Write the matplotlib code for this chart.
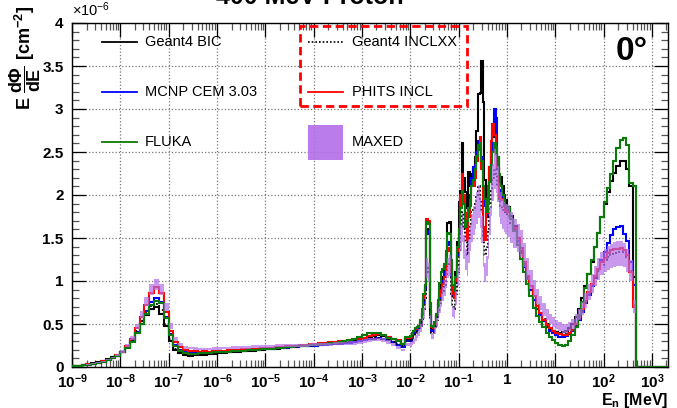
import numpy as np
import matplotlib
matplotlib.use("Agg")
import matplotlib.pyplot as plt
from matplotlib.patches import Rectangle
from matplotlib.ticker import FixedLocator, NullFormatter

plt.rcParams['font.family'] = ['Liberation Sans', 'DejaVu Sans']
plt.rcParams['mathtext.fontset'] = 'custom'
plt.rcParams['mathtext.rm'] = 'Liberation Sans'
plt.rcParams['mathtext.bf'] = 'Liberation Sans:bold'
plt.rcParams['mathtext.it'] = 'Liberation Sans:italic'
plt.rcParams['mathtext.sf'] = 'Liberation Sans'

# ---------------- data (units of 1e-6 cm^-2) ----------------
# energy binning (log10 MeV): thermal/epithermal, resonance region, fast region
seg_lo = [-9.0, -2.0, 0.0]
seg_hi = [-2.0, 0.0, 10.0 / 3.0]
seg_nbins = [70, 60, 50]

labels = ["Geant4 BIC", "MCNP CEM 3.03", "FLUKA", "Geant4 INCLXX", "PHITS INCL", "MAXED"]

bic_low = [0.01, 0.015, 0.025, 0.035, 0.045, 0.055, 0.07, 0.09, 0.115, 0.145,
           0.18, 0.23, 0.30, 0.40, 0.50, 0.60, 0.68, 0.70, 0.62, 0.48,
           0.30, 0.20, 0.16, 0.14, 0.13, 0.135, 0.14, 0.145, 0.15, 0.155,
           0.16, 0.165, 0.17, 0.175, 0.18, 0.185, 0.19, 0.19, 0.195, 0.20,
           0.205, 0.21, 0.215, 0.22, 0.225, 0.23, 0.235, 0.24, 0.245, 0.25,
           0.255, 0.26, 0.265, 0.27, 0.275, 0.28, 0.285, 0.29, 0.30, 0.31,
           0.32, 0.34, 0.36, 0.37, 0.36, 0.34, 0.32, 0.30, 0.27, 0.32]
bic_mid = [0.34, 0.37, 0.40, 0.43, 0.44, 0.46, 0.52, 0.62, 0.78, 0.92,
           1.60, 1.55, 0.65, 0.45, 0.44, 0.50, 0.62, 0.75, 0.85, 0.95,
           1.05, 1.15, 1.30, 1.67, 1.69, 1.20, 0.86, 0.85, 1.10, 1.45,
           1.92, 2.05, 2.60, 2.20, 2.04, 1.85, 2.27, 2.10, 2.25, 2.30,
           2.44, 2.75, 3.17, 3.19, 3.56, 3.08, 2.17, 1.95, 2.10, 2.33,
           2.50, 2.67, 2.87, 2.56, 2.44, 2.23, 2.21, 2.10, 2.00, 1.94]
bic_high = [1.86, 1.76, 1.64, 1.50, 1.35, 1.18, 1.03, 0.90, 0.78, 0.68,
            0.60, 0.53, 0.48, 0.44, 0.42, 0.41, 0.40, 0.41, 0.42, 0.45,
            0.50, 0.58, 0.68, 0.80, 0.94, 1.08, 1.22, 1.40, 1.56, 1.74,
            1.90, 2.04, 2.16, 2.26, 2.34, 2.40, 2.40, 2.30, 2.10, 1.05,
            0, 0, 0, 0, 0, 0, 0, 0, 0, 0]

mcnp_low = [0.01, 0.012, 0.018, 0.025, 0.035, 0.045, 0.06, 0.08, 0.10, 0.13,
            0.17, 0.22, 0.30, 0.41, 0.53, 0.65, 0.76, 0.80, 0.76, 0.58,
            0.38, 0.26, 0.20, 0.17, 0.16, 0.16, 0.165, 0.165, 0.17, 0.17,
            0.175, 0.18, 0.18, 0.185, 0.19, 0.19, 0.195, 0.20, 0.20, 0.205,
            0.21, 0.215, 0.22, 0.22, 0.225, 0.23, 0.235, 0.24, 0.245, 0.25,
            0.25, 0.255, 0.26, 0.265, 0.27, 0.27, 0.275, 0.28, 0.29, 0.30,
            0.31, 0.32, 0.33, 0.34, 0.33, 0.31, 0.29, 0.26, 0.23, 0.30]
mcnp_mid = [0.30, 0.34, 0.38, 0.41, 0.43, 0.45, 0.50, 0.62, 0.75, 0.90,
            1.58, 1.55, 0.60, 0.42, 0.42, 0.48, 0.58, 0.72, 0.80, 0.90,
            1.00, 1.10, 1.25, 1.42, 1.45, 1.05, 0.82, 0.80, 0.98, 1.30,
            1.55, 1.95, 2.13, 1.90, 1.70, 1.60, 1.85, 2.00, 2.20, 2.33,
            2.35, 2.50, 2.63, 2.55, 2.44, 2.00, 1.87, 1.75, 2.00, 2.25,
            2.50, 2.83, 3.00, 2.90, 2.30, 2.06, 2.00, 1.95, 1.90, 1.85]
mcnp_high = [1.82, 1.72, 1.60, 1.46, 1.32, 1.16, 1.02, 0.90, 0.78, 0.68,
             0.60, 0.53, 0.47, 0.42, 0.39, 0.37, 0.35, 0.35, 0.36, 0.38,
             0.42, 0.47, 0.55, 0.64, 0.74, 0.84, 0.94, 1.04, 1.14, 1.24,
             1.34, 1.44, 1.54, 1.61, 1.63, 1.64, 1.55, 1.46, 1.22, 0.95,
             0, 0, 0, 0, 0, 0, 0, 0, 0, 0]

fluka_low = [0.01, 0.012, 0.018, 0.025, 0.035, 0.045, 0.06, 0.08, 0.10, 0.13,
             0.17, 0.22, 0.29, 0.39, 0.50, 0.62, 0.72, 0.77, 0.74, 0.57,
             0.37, 0.25, 0.19, 0.165, 0.155, 0.155, 0.16, 0.16, 0.165, 0.17,
             0.17, 0.175, 0.18, 0.185, 0.185, 0.19, 0.195, 0.20, 0.20, 0.205,
             0.21, 0.215, 0.22, 0.225, 0.23, 0.235, 0.24, 0.245, 0.25, 0.255,
             0.26, 0.265, 0.27, 0.275, 0.28, 0.29, 0.30, 0.31, 0.33, 0.35,
             0.37, 0.39, 0.40, 0.39, 0.37, 0.34, 0.32, 0.30, 0.27, 0.35]
fluka_mid = [0.36, 0.40, 0.42, 0.45, 0.47, 0.48, 0.55, 0.65, 0.85, 0.95,
             1.69, 1.66, 0.75, 0.48, 0.47, 0.52, 0.62, 0.78, 0.98, 1.10,
             1.14, 1.20, 1.35, 1.56, 1.55, 1.25, 0.95, 0.88, 1.05, 1.40,
             1.60, 1.85, 2.05, 1.90, 1.63, 1.70, 1.85, 1.94, 2.10, 2.17,
             2.30, 2.45, 2.58, 2.60, 2.40, 2.10, 1.95, 1.80, 1.90, 2.15,
             2.35, 2.50, 2.60, 2.56, 2.44, 2.25, 2.10, 2.00, 1.94, 1.88]
fluka_high = [1.85, 1.72, 1.58, 1.42, 1.26, 1.10, 0.96, 0.82, 0.69, 0.59,
              0.52, 0.46, 0.40, 0.35, 0.31, 0.28, 0.26, 0.25, 0.26, 0.30,
              0.37, 0.47, 0.60, 0.76, 0.92, 1.08, 1.24, 1.40, 1.56, 1.74,
              1.92, 2.08, 2.24, 2.40, 2.55, 2.64, 2.66, 2.58, 2.14, 2.10,
              0, 0, 0, 0, 0, 0, 0, 0, 0, 0]

inclxx_low = [0.01, 0.015, 0.02, 0.03, 0.04, 0.05, 0.065, 0.085, 0.11, 0.14,
              0.18, 0.23, 0.31, 0.42, 0.53, 0.63, 0.71, 0.73, 0.66, 0.50,
              0.32, 0.21, 0.17, 0.15, 0.14, 0.145, 0.15, 0.155, 0.16, 0.16,
              0.165, 0.17, 0.175, 0.18, 0.185, 0.19, 0.19, 0.195, 0.20, 0.20,
              0.205, 0.21, 0.215, 0.22, 0.225, 0.23, 0.235, 0.24, 0.245, 0.25,
              0.255, 0.26, 0.265, 0.27, 0.27, 0.275, 0.28, 0.29, 0.30, 0.31,
              0.32, 0.33, 0.34, 0.34, 0.33, 0.31, 0.29, 0.27, 0.24, 0.30]
inclxx_mid = [0.30, 0.33, 0.36, 0.39, 0.41, 0.43, 0.48, 0.56, 0.68, 0.80,
              1.15, 1.10, 0.55, 0.40, 0.40, 0.45, 0.55, 0.66, 0.75, 0.82,
              0.88, 0.95, 1.05, 1.18, 1.20, 0.85, 0.70, 0.68, 0.85, 1.10,
              1.35, 1.65, 1.80, 1.60, 1.45, 1.30, 1.50, 1.65, 1.80, 1.85,
              1.90, 2.00, 2.10, 1.95, 1.80, 1.50, 1.30, 1.40, 1.60, 1.85,
              2.05, 2.20, 2.30, 2.25, 2.10, 1.95, 1.87, 1.82, 1.80, 1.78]
inclxx_high = [1.76, 1.68, 1.58, 1.46, 1.34, 1.20, 1.06, 0.94, 0.82, 0.72,
               0.63, 0.56, 0.50, 0.45, 0.42, 0.40, 0.39, 0.38, 0.38, 0.40,
               0.43, 0.49, 0.56, 0.65, 0.75, 0.85, 0.95, 1.04, 1.12, 1.19,
               1.24, 1.28, 1.31, 1.33, 1.34, 1.34, 1.32, 1.27, 1.12, 0.72,
               0, 0, 0, 0, 0, 0, 0, 0, 0, 0]

phits_low = [0.01, 0.015, 0.02, 0.03, 0.04, 0.05, 0.065, 0.085, 0.11, 0.14,
             0.18, 0.24, 0.33, 0.45, 0.58, 0.72, 0.86, 0.93, 0.86, 0.64,
             0.42, 0.29, 0.23, 0.20, 0.19, 0.185, 0.18, 0.185, 0.18, 0.185,
             0.19, 0.19, 0.195, 0.20, 0.20, 0.205, 0.21, 0.205, 0.215, 0.22,
             0.22, 0.225, 0.23, 0.235, 0.24, 0.245, 0.25, 0.255, 0.26, 0.265,
             0.27, 0.275, 0.28, 0.29, 0.295, 0.30, 0.305, 0.31, 0.32, 0.33,
             0.34, 0.36, 0.37, 0.38, 0.37, 0.35, 0.33, 0.31, 0.27, 0.34]
phits_mid = [0.35, 0.38, 0.42, 0.44, 0.46, 0.47, 0.55, 0.68, 0.80, 0.95,
             1.72, 1.70, 0.70, 0.46, 0.45, 0.50, 0.60, 0.74, 0.82, 0.90,
             0.96, 1.05, 1.20, 1.35, 1.38, 1.10, 0.85, 0.80, 1.00, 1.35,
             1.60, 2.00, 2.25, 2.00, 1.79, 1.48, 1.75, 1.87, 2.10, 2.10,
             2.20, 2.40, 2.52, 2.67, 2.30, 1.63, 1.48, 1.79, 2.10, 2.33,
             2.63, 2.83, 2.70, 2.48, 2.33, 1.98, 1.95, 1.94, 1.87, 1.82]
phits_high = [1.80, 1.72, 1.62, 1.50, 1.38, 1.22, 1.06, 0.94, 0.82, 0.71,
              0.63, 0.55, 0.49, 0.45, 0.42, 0.40, 0.38, 0.37, 0.37, 0.39,
              0.43, 0.50, 0.58, 0.67, 0.77, 0.87, 0.96, 1.06, 1.14, 1.22,
              1.27, 1.32, 1.36, 1.37, 1.37, 1.38, 1.36, 1.30, 1.10, 0.70,
              0, 0, 0, 0, 0, 0, 0, 0, 0, 0]

maxed_low = [0.01, 0.015, 0.02, 0.03, 0.04, 0.05, 0.065, 0.085, 0.11, 0.14,
             0.18, 0.25, 0.34, 0.47, 0.61, 0.76, 0.90, 0.96, 0.90, 0.70,
             0.48, 0.33, 0.26, 0.23, 0.22, 0.215, 0.21, 0.21, 0.21, 0.215,
             0.215, 0.22, 0.22, 0.225, 0.225, 0.23, 0.23, 0.235, 0.235, 0.24,
             0.24, 0.24, 0.245, 0.245, 0.25, 0.25, 0.25, 0.255, 0.255, 0.26,
             0.26, 0.26, 0.265, 0.265, 0.27, 0.27, 0.27, 0.28, 0.28, 0.29,
             0.30, 0.31, 0.32, 0.32, 0.31, 0.29, 0.26, 0.23, 0.20, 0.26]
maxed_mid = [0.26, 0.28, 0.30, 0.34, 0.37, 0.40, 0.45, 0.52, 0.62, 0.75,
             1.15, 1.10, 0.55, 0.36, 0.36, 0.42, 0.52, 0.62, 0.70, 0.78,
             0.85, 0.92, 1.02, 1.15, 1.18, 0.80, 0.65, 0.62, 0.80, 1.05,
             1.25, 1.50, 1.62, 1.40, 1.25, 1.17, 1.35, 1.50, 1.62, 1.70,
             1.78, 1.85, 1.92, 1.80, 1.60, 1.29, 1.10, 1.17, 1.40, 1.70,
             1.95, 2.15, 2.30, 2.25, 2.13, 1.94, 1.85, 1.78, 1.74, 1.72]
maxed_high = [1.70, 1.62, 1.55, 1.50, 1.44, 1.30, 1.14, 1.02, 0.91, 0.82,
              0.74, 0.67, 0.61, 0.56, 0.52, 0.49, 0.47, 0.45, 0.45, 0.47,
              0.50, 0.55, 0.61, 0.68, 0.77, 0.87, 0.97, 1.06, 1.14, 1.20,
              1.24, 1.27, 1.29, 1.31, 1.32, 1.32, 1.30, 1.24, 1.12, 0.70,
              0, 0, 0, 0, 0, 0, 0, 0, 0, 0]
# relative uncertainty of the MAXED band in each energy segment
maxed_rel_err = [0.07, 0.10, 0.11]

xtick_exp = [-9, -8, -7, -6, -5, -4, -3, -2, -1, 0, 1, 2, 3]
ytick_vals = [0, 0.5, 1, 1.5, 2, 2.5, 3, 3.5, 4]
ytick_labels = ["0", "0.5", "1", "1.5", "2", "2.5", "3", "3.5", "4"]

# ---------------- build histograms ----------------
edges_log = [np.linspace(seg_lo[0], seg_hi[0], seg_nbins[0] + 1)]
for lo, hi, n in zip(seg_lo[1:], seg_hi[1:], seg_nbins[1:]):
    edges_log.append(np.linspace(lo, hi, n + 1)[1:])
edges = 10 ** np.concatenate(edges_log)

bic = np.array(bic_low + bic_mid + bic_high)
mcnp = np.array(mcnp_low + mcnp_mid + mcnp_high)
fluka = np.array(fluka_low + fluka_mid + fluka_high)
inclxx = np.array(inclxx_low + inclxx_mid + inclxx_high)
phits = np.array(phits_low + phits_mid + phits_high)
maxed = np.array(maxed_low + maxed_mid + maxed_high)
rel = np.concatenate([np.full(n, r) for n, r in zip(seg_nbins, maxed_rel_err)])

# ---------------- figure ----------------
W, H = 677, 408
fig = plt.figure(figsize=(W / 100, H / 100), dpi=100)
L, R, T, B = 72, 668, 23, 367
ax = fig.add_axes([L / W, 1 - B / H, (R - L) / W, (B - T) / H])

green = '#0a7a0a'
purple = '#b26ee8'
lw = 1.5
ax.stairs(bic, edges, color='black', lw=lw, zorder=3)
ax.stairs(mcnp, edges, color='#0000ff', lw=lw, zorder=3)
ax.stairs(inclxx, edges, color='black', lw=1.3, ls=(0, (1, 1.2)), zorder=3)
ax.stairs(phits, edges, color='#ff0000', lw=lw, zorder=3)
ax.stairs(fluka, edges, color=green, lw=lw, zorder=3)
ax.stairs(maxed * (1 + rel), edges, baseline=maxed * (1 - rel), fill=True,
          facecolor=purple, edgecolor='none', alpha=0.7, zorder=4)

ax.set_xscale('log')
ax.set_xlim(10 ** seg_lo[0], 10 ** seg_hi[-1])
ax.set_ylim(0, 4)

xt = [10.0 ** e for e in xtick_exp]
xl = []
for e in xtick_exp:
    if e == 0:
        xl.append('1')
    elif e == 1:
        xl.append('10')
    else:
        xl.append(r'$\mathbf{10^{%d}}$' % e)
ax.xaxis.set_major_locator(FixedLocator(xt))
ax.set_xticklabels(xl)
minors = [m * 10.0 ** e for e in xtick_exp for m in range(2, 10)]
ax.xaxis.set_minor_locator(FixedLocator(minors))
ax.xaxis.set_minor_formatter(NullFormatter())
ax.yaxis.set_major_locator(FixedLocator(ytick_vals))
ax.set_yticklabels(ytick_labels)
ax.yaxis.set_minor_locator(FixedLocator(list(np.arange(0, 4.01, 0.1))))

ax.tick_params(which='both', direction='in', top=True, right=True,
               labelsize=11, width=0.9)
ax.tick_params(which='major', length=10)
ax.tick_params(which='minor', length=5, color='#555555')
ax.tick_params(axis='x', pad=4)
ax.tick_params(axis='y', pad=6)
for lab in ax.get_xticklabels() + ax.get_yticklabels():
    lab.set_fontweight('bold')

ax.grid(True, which='major', ls=':', color='#777777', lw=0.9)
for s in ax.spines.values():
    s.set_linewidth(1.0)

# axis labels / annotations
fig.text(L / W, 1 - 10 / H, r'$\times10^{-6}$', ha='left', va='center',
         fontsize=10.5)
fig.text(25 / W, 1 - 6 / H, r'$\mathbf{E\ \dfrac{d\Phi}{dE}\ [cm^{-2}]}$',
         rotation=90, ha='center', va='top', fontsize=13)
fig.text(R / W, 1 - 400 / H, r'$\mathbf{E_{n}}$ [MeV]', ha='right',
         va='center', fontsize=11.5, fontweight='bold')
fig.text(0.458, 1 - 4 / H, '400 MeV Proton', ha='center', va='baseline',
         fontsize=18, fontweight='bold')


def fx(px):
    return (px - L) / (R - L)


def fy(py):
    return (B - py) / (B - T)


ax.text(fx(632), fy(52), '0°', transform=ax.transAxes, ha='center',
        va='center', fontsize=24, fontweight='bold')

# legend
rows = [42, 92, 142]
col1 = [labels[0], labels[1], labels[2]]
col1_c = ['black', '#0000ff', green]
for py, lab, c in zip(rows, col1, col1_c):
    ax.plot([fx(102), fx(137)], [fy(py), fy(py)], color=c, lw=1.3,
            transform=ax.transAxes, clip_on=False, zorder=6)
    ax.text(fx(145), fy(py), lab, transform=ax.transAxes, ha='left',
            va='center', fontsize=10.5, zorder=6)
ax.plot([fx(308), fx(343)], [fy(42), fy(42)], color='black', lw=1.2,
        ls=(0, (1, 1.2)), transform=ax.transAxes, clip_on=False, zorder=6)
ax.text(fx(352), fy(42), labels[3], transform=ax.transAxes, ha='left',
        va='center', fontsize=10.5, zorder=6)
ax.plot([fx(308), fx(343)], [fy(92), fy(92)], color='#ff0000', lw=1.3,
        transform=ax.transAxes, clip_on=False, zorder=6)
ax.text(fx(352), fy(92), labels[4], transform=ax.transAxes, ha='left',
        va='center', fontsize=10.5, zorder=6)
ax.add_patch(Rectangle((fx(308), fy(160)), fx(343) - fx(308),
                       fy(125) - fy(160), transform=ax.transAxes,
                       facecolor=purple, edgecolor='none', alpha=0.9,
                       zorder=6))
ax.text(fx(352), fy(142), labels[5], transform=ax.transAxes, ha='left',
        va='center', fontsize=10.5, zorder=6)
ax.add_patch(Rectangle((fx(300), fy(106)), fx(467) - fx(300),
                       fy(26) - fy(106), transform=ax.transAxes,
                       fill=False, edgecolor='#ff0000', lw=2.0,
                       ls=(0, (3, 1.6)), zorder=7))

fig.savefig('out.png', dpi=100)
